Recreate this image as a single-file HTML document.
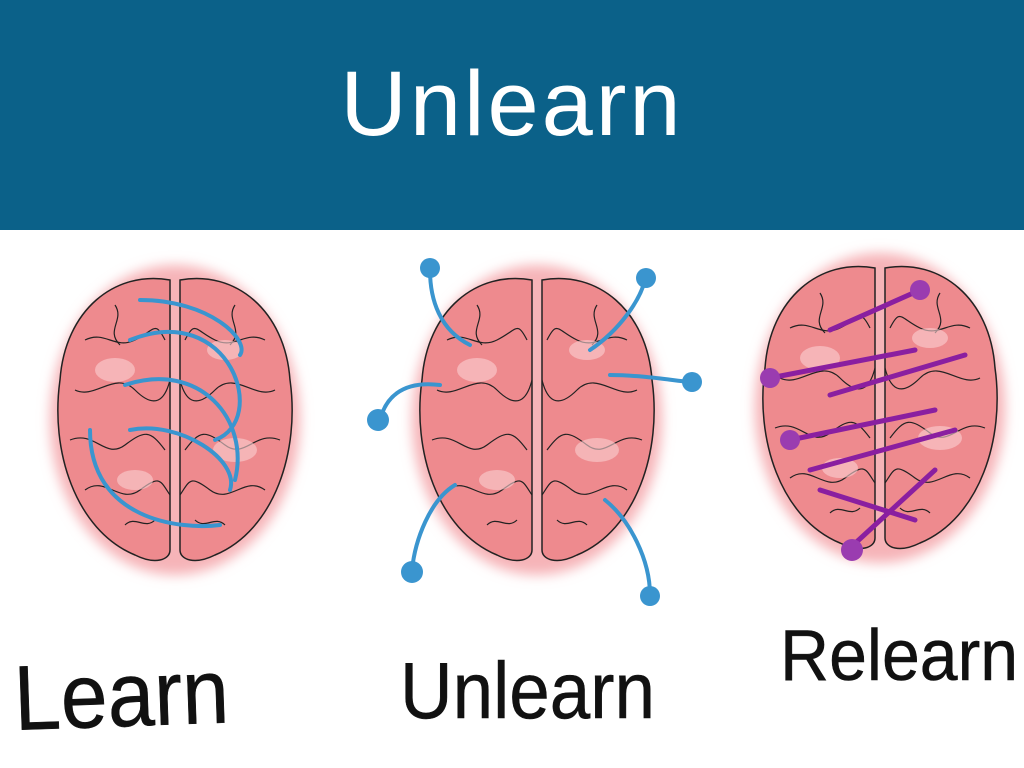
<!DOCTYPE html>
<html><head><meta charset="utf-8"><style>
html,body{margin:0;padding:0;width:1024px;height:768px;overflow:hidden;background:#fff}
.hdr{position:absolute;left:0;top:0;width:1024px;height:230px;background:#0b6189}
.hdr div{position:absolute;left:0;width:1024px;top:52px;text-align:center;color:#fff;font:500 92px "Liberation Sans",sans-serif;letter-spacing:3px}
svg{position:absolute;left:0;top:0}
.lbl{font-family:"Liberation Sans",sans-serif;fill:#111;stroke:#111;stroke-width:0.5}
</style></head><body>
<div class="hdr"><div>Unlearn</div></div>
<svg width="1024" height="768">
<defs>
<filter id="b" x="-20%" y="-20%" width="140%" height="140%"><feGaussianBlur stdDeviation="6"/></filter>
<g id="brain">
<ellipse cx="0" cy="0" rx="125" ry="155" fill="#f6b4b8" filter="url(#b)"/>
<path d="M-5,-140 C-60,-150 -110,-110 -115,-40 C-125,30 -100,110 -40,135 C-20,145 -5,140 -5,130 Z" fill="#ee8a8e" stroke="#222" stroke-width="1.5"/>
<path d="M5,-140 C60,-150 110,-110 115,-40 C125,30 100,110 40,135 C20,145 5,140 5,130 Z" fill="#ee8a8e" stroke="#222" stroke-width="1.5"/>
<g fill="none" stroke="#222" stroke-width="1.2">
<path d="M-90,-80 c20,-10 30,10 50,0 s20,-20 30,0"/><path d="M-100,-30 c20,10 40,-20 60,0 s30,10 35,-10"/>
<path d="M-105,20 c25,-10 35,20 55,5 s25,-15 40,5"/><path d="M-90,70 c20,-15 35,15 55,0 s20,-10 30,5"/>
<path d="M90,-80 c-20,-10 -30,10 -50,0 s-20,-20 -30,0"/><path d="M100,-30 c-20,10 -40,-20 -60,0 s-30,10 -35,-10"/>
<path d="M105,20 c-25,-10 -35,20 -55,5 s-25,-15 -40,5"/><path d="M90,70 c-20,-15 -35,15 -55,0 s-20,-10 -30,5"/>
<path d="M-60,-115 c10,15 -10,25 5,40"/><path d="M60,-115 c-10,15 10,25 -5,40"/>
<path d="M-50,105 c10,-10 20,5 30,-5"/><path d="M50,105 c-10,-10 -20,5 -30,-5"/>
</g>
<g fill="#fbd0d2" opacity=".6"><ellipse cx="-60" cy="-50" rx="20" ry="12"/><ellipse cx="60" cy="30" rx="22" ry="12"/><ellipse cx="-40" cy="60" rx="18" ry="10"/><ellipse cx="50" cy="-70" rx="18" ry="10"/></g>
</g>
</defs>
<use href="#brain" x="175" y="420"/>
<use href="#brain" x="537" y="420"/>
<use href="#brain" x="880" y="408"/>
<g fill="none" stroke="#3a95cf" stroke-width="4" stroke-linecap="round">
<path d="M140,300 C210,300 250,340 240,355"/><path d="M130,340 C230,300 270,420 215,440"/>
<path d="M125,385 C200,360 250,420 235,480"/><path d="M90,430 C90,520 180,530 220,525"/><path d="M130,430 C180,420 240,460 230,490"/>
<path d="M470,345 C440,330 430,300 430,270"/><path d="M440,385 C400,380 385,400 380,420"/><path d="M455,485 C430,500 415,540 412,570"/>
<path d="M590,350 C620,330 640,300 645,280"/><path d="M610,375 C640,375 670,380 690,382"/><path d="M605,500 C630,520 650,560 650,595"/>
</g>
<g fill="#3a95cf"><circle cx="430" cy="268" r="10"/><circle cx="378" cy="420" r="11"/><circle cx="412" cy="572" r="11"/><circle cx="646" cy="278" r="10"/><circle cx="692" cy="382" r="10"/><circle cx="650" cy="596" r="10"/></g>
<g fill="none" stroke="#8a1fa0" stroke-width="5" stroke-linecap="round">
<path d="M830,330 L920,290"/><path d="M770,378 L915,350"/><path d="M830,395 L965,355"/><path d="M790,440 L935,410"/>
<path d="M810,470 L955,430"/><path d="M850,548 L935,470"/><path d="M820,490 L915,520"/>
</g>
<g fill="#9a3cb0"><circle cx="770" cy="378" r="10"/><circle cx="790" cy="440" r="10"/><circle cx="852" cy="550" r="11"/><circle cx="920" cy="290" r="10"/></g>
<text class="lbl" x="15" y="730" font-size="92" textLength="215" lengthAdjust="spacingAndGlyphs" transform="rotate(-2 15 730)">Learn</text>
<text class="lbl" x="400" y="718" font-size="80" textLength="255" lengthAdjust="spacingAndGlyphs">Unlearn</text>
<text class="lbl" x="780" y="680" font-size="72" textLength="238" lengthAdjust="spacingAndGlyphs">Relearn</text>
</svg>
</body></html>
